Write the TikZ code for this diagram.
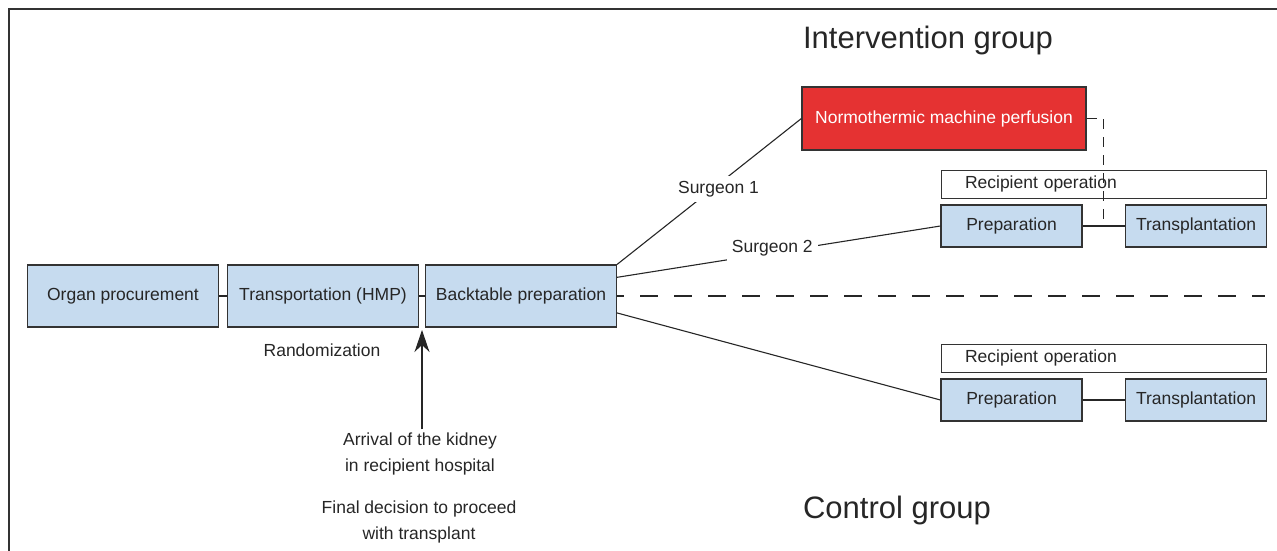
\documentclass[tikz,border=0pt]{standalone}
\usepackage{fontspec}
\setmainfont{Liberation Sans}
\usetikzlibrary{arrows.meta,calc}
\definecolor{stageblue}{HTML}{C6DBEF}
\definecolor{nmpred}{HTML}{E53232}
\definecolor{edgegray}{HTML}{333333}
\newcommand{\stage}[3]{%
 \node[stage] ({#1}) at ({#2}) {#3};%
}
\newcommand{\substage}[3]{%
 \node[substage] ({#1}) at ({#2}) {#3};%
}
\newcommand{\opbar}[3]{%
 \node[opbar] ({#1}) at ({#2}) {#3};%
}

\begin{document}
\begin{tikzpicture}[x=1pt,y=-1pt,
  every node/.style={font=\fontsize{17.5}{26}\selectfont,text=black!85},
  stage/.style={draw=edgegray,line width=1.2pt,fill=stageblue,minimum width=191pt,minimum height=62pt,inner sep=0pt},
  substage/.style={draw=edgegray,line width=1.2pt,fill=stageblue,minimum width=141pt,minimum height=42pt,inner sep=0pt},
  opbar/.style={draw=edgegray,line width=1pt,fill=white,minimum height=28pt,inner ysep=0pt,inner xsep=24pt,text width=277pt,align=left},
  grouplabel/.style={font=\fontsize{31}{36}\selectfont},
  link/.style={draw=black!85,line width=1.1pt},
  surgeon/.style={fill=white,inner sep=5pt}]
  \useasboundingbox (0,0) rectangle (1277,551);
  % frame, open to the right and below
  \draw[edgegray,line width=1.5pt] (9,551) -- (9,9) -- (1277,9);
  % common path
  \stage{op}{123,296}{Organ procurement};
  \stage{hmp}{323,296}{Transportation (HMP)};
  \stage{bt}{521,296}{Backtable preparation};
  \draw[link] (op) -- (hmp);
  \draw[link] (hmp) -- (bt);
  \coordinate (dashend) at (1265,296);
  \draw[link,dash pattern=on 18pt off 16pt,dash phase=11pt] (bt.east) -- (dashend);
  \node (rnd) at (322,350) {Randomization};
  \node[align=center] (arr) at (420,454) {Arrival of the kidney\\ in recipient hospital};
  \node[align=center] (fd) at (419,522) {Final decision to proceed\\ with transplant};
  \coordinate (arrtip) at (422,330);
  \draw[link,-{Stealth[length=22pt,width=15pt,inset=7pt]}] (arr.north -| arrtip) -- (arrtip);
  % intervention group
  \node[grouplabel] (ig) at (928,40) {Intervention group};
  \node[draw=edgegray,line width=1.2pt,fill=nmpred,text=white,minimum width=284pt,minimum height=63pt,inner sep=0pt] (nmp) at (944,118.5) {Normothermic machine perfusion};
  \opbar{ro1}{1103.5,184}{Recipient operation};
  \substage{prep1}{1011.5,226}{Preparation};
  \substage{tx1}{1196,226}{Transplantation};
  \draw[link] (prep1) -- (tx1);
  \draw[link,dash pattern=on 10pt off 8pt] (nmp.east) -| ($(prep1.east)!.5!(tx1.west)$);
  \draw[link] (bt.north east) -- node[surgeon,pos=.55,yshift=-5pt] (s1) {Surgeon 1} (nmp.west);
  \draw[link] (bt.11) -- node[surgeon,pos=.48,yshift=4pt] (s2) {Surgeon 2} (prep1.west);
  % control group
  \node[grouplabel] (cg) at (897,510) {Control group};
  \opbar{ro2}{1103.5,358}{Recipient operation};
  \substage{prep2}{1011.5,400}{Preparation};
  \substage{tx2}{1196,400}{Transplantation};
  \draw[link] (prep2) -- (tx2);
  \draw[link] (bt.-10.7) -- (prep2.west);
\end{tikzpicture}
\end{document}
